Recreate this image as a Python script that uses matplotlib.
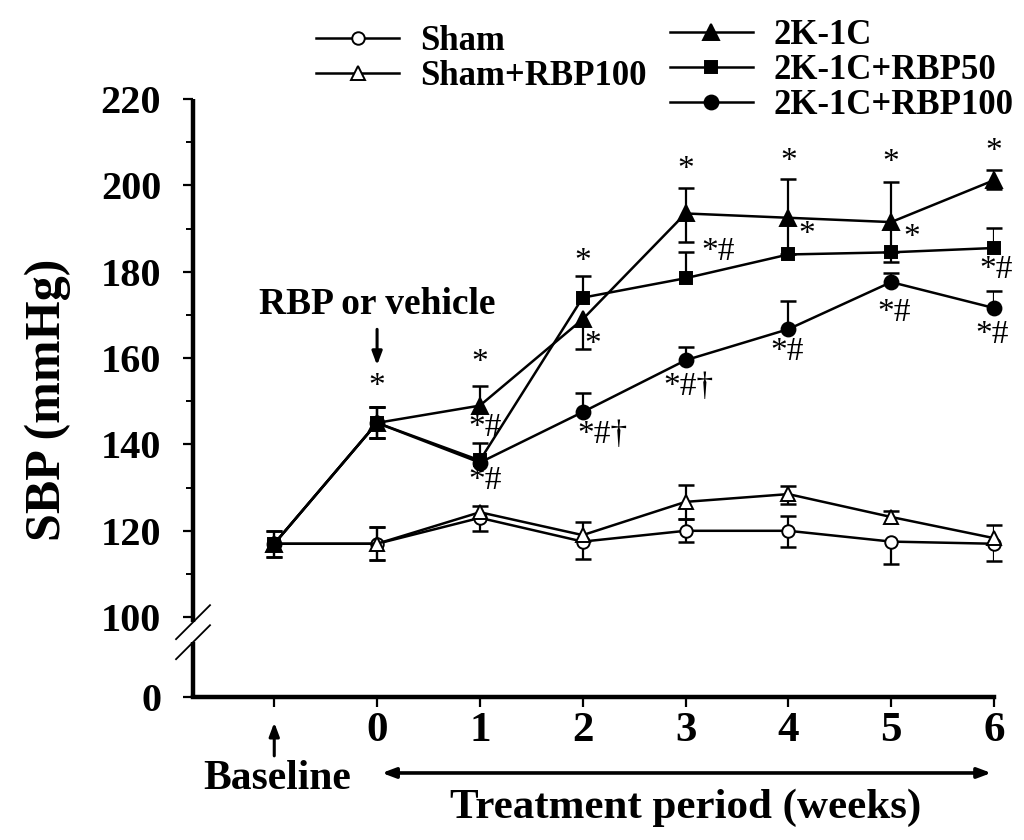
import matplotlib
matplotlib.use("Agg")
import matplotlib.pyplot as plt
import numpy as np

plt.rcParams['font.family'] = ['Liberation Serif', 'DejaVu Serif']
plt.rcParams['font.weight'] = 'bold'
plt.rcParams['axes.labelweight'] = 'bold'

# x positions: -1 is the baseline measurement, 0..6 are treatment weeks
weeks = [-1, 0, 1, 2, 3, 4, 5, 6]
week_labels = ['', '0', '1', '2', '3', '4', '5', '6']

# SBP means (mmHg) and one-sided error bar lengths
sham = [117, 117, 123, 117.5, 120, 120, 117.5, 117]
sham_lo = [3, 3.8, 3, 4, 2.7, 3.8, 5.3, 4]
sham_hi = [3, 3.8, 0, 0, 2.7, 3.4, 0, 0]

sham_rbp = [117, 117, 124.3, 119, 126.7, 128.5, 123.2, 118.3]
sham_rbp_lo = [0, 3.8, 0, 0, 4, 2.3, 0, 0]
sham_rbp_hi = [0, 3.8, 1.5, 3, 4, 1.8, 1.3, 3]

k2c = [117, 145, 149, 169, 193.5, 192.5, 191.5, 201.2]
k2c_lo = [3, 3.6, 0, 7, 6.5, 8.5, 7, 2]
k2c_hi = [3, 3.6, 4.6, 0, 6, 9, 9.3, 2.4]

rbp50 = [117, 145, 136.3, 174, 178.5, 184, 184.5, 185.5]
rbp50_lo = [0, 3.6, 0, 0, 0, 0, 2.3, 0]
rbp50_hi = [0, 3.6, 4, 5, 6, 0, 0, 4.7]

rbp100 = [117, 145, 135.8, 147.5, 159.5, 166.7, 177.6, 171.6]
rbp100_lo = [0, 3.6, 0, 0, 0, 0, 0, 0]
rbp100_hi = [0, 3.6, 0, 4.5, 3, 6.5, 2, 4]

# significance marks
star_x = [0, 1, 1.05, 1.05, 2, 2.1, 2.19, 3, 3.32, 3.03, 4, 4.18, 3.99, 5, 5.2, 5.03, 6, 6.02, 5.98]
star_y = [153.4, 159.0, 143.8, 131.7, 182.2, 163.0, 142.2, 203.6, 184.7, 153.4, 205.4, 188.5, 161.5,
          205.2, 187.8, 170.5, 207.8, 180.4, 165.4]
star_txt = ['*', '*', '*#', '*#', '*', '*', '*#\u2020', '*', '*#', '*#\u2020', '*', '*', '*#',
            '*', '*', '*#', '*', '*#', '*#']

Y_BOTTOM = 81.5   # where the "0" tick sits below the axis break

fig = plt.figure(figsize=(10.24, 8.4), dpi=100)
ax = fig.add_axes([0.1885, 0.1702, 0.7822, 0.7119])


def err_bars(x, y, lo, hi):
    x = np.array(x, float)
    y = np.array(y, float)
    for d, sign in ((np.array(hi, float), 1), (np.array(lo, float), -1)):
        m = d > 0
        ends = y[m] + sign * d[m]
        ax.vlines(x[m], y[m], ends, color='k', lw=1.6, zorder=2)
        ax.plot(x[m], ends, ls='none', marker='_', ms=12, mew=1.8, color='k',
                zorder=2, clip_on=False)


series = [
    ('Sham', sham, sham_lo, sham_hi, 'o', 'white', 9),
    ('Sham+RBP100', sham_rbp, sham_rbp_lo, sham_rbp_hi, '^', 'white', 10),
    ('2K-1C', k2c, k2c_lo, k2c_hi, '^', 'black', 11),
    ('2K-1C+RBP50', rbp50, rbp50_lo, rbp50_hi, 's', 'black', 9),
    ('2K-1C+RBP100', rbp100, rbp100_lo, rbp100_hi, 'o', 'black', 10),
]

lines = []
for i, (lab, y, lo, hi, mk, fc, ms) in enumerate(series):
    err_bars(weeks, y, lo, hi)
    ln, = ax.plot(weeks, y, color='k', lw=1.8, marker=mk, ms=ms, mfc=fc, mec='k',
                  mew=1.4, label=lab, zorder=3 + i, clip_on=False)
    lines.append(ln)

for x, y, t in zip(star_x, star_y, star_txt):
    ax.text(x, y, t, ha='center', va='center', fontsize=24, fontweight='normal', zorder=10)

# axes
ax.set_xlim(-1.79, 6)
ax.set_ylim(Y_BOTTOM, 220)
ax.set_xticks(weeks)
ax.set_xticklabels(week_labels, fontsize=31)
ax.set_yticks([Y_BOTTOM, 100, 120, 140, 160, 180, 200, 220])
ax.set_yticklabels(['0', '100', '120', '140', '160', '180', '200', '220'], fontsize=29)
ax.set_yticks([110, 130, 150, 170, 190, 210], minor=True)
ax.tick_params(axis='both', which='major', direction='out', length=7, width=1.6)
ax.tick_params(axis='y', which='major', pad=16)
ax.tick_params(axis='x', which='major', pad=4)
ax.tick_params(axis='y', which='minor', direction='out', length=5, width=1.4)
for s in ('top', 'right', 'left'):
    ax.spines[s].set_visible(False)
ax.spines['bottom'].set_linewidth(3.2)

# broken left axis
ytr = ax.get_yaxis_transform()
ax.plot([0, 0], [Y_BOTTOM, 94.2], color='k', lw=3.2, transform=ytr, clip_on=False,
        solid_capstyle='butt')
ax.plot([0, 0], [98.84, 220], color='k', lw=3.2, transform=ytr, clip_on=False,
        solid_capstyle='butt')
for yb in (98.84, 94.2):
    yf = (yb - Y_BOTTOM) / (220 - Y_BOTTOM)
    ax.plot([-0.0212, 0.0212], [yf - 0.0284, yf + 0.0284], color='k', lw=1.3,
            transform=ax.transAxes, clip_on=False)

ax.set_ylabel('SBP (mmHg)', fontsize=36, fontweight='bold')
ax.yaxis.set_label_coords(-0.152, 0.497)

# annotations
ax.annotate('', xy=(0, 157.7), xytext=(0, 167.3),
            arrowprops=dict(arrowstyle='-|>,head_length=0.8,head_width=0.3', color='k', lw=2.2))
ax.text(0, 172.5, 'RBP or vehicle', ha='center', va='center', fontsize=27)

xtr = ax.get_xaxis_transform()
ax.annotate('', xy=(-1, -0.038), xytext=(-1, -0.103), xycoords=xtr, textcoords=xtr,
            arrowprops=dict(arrowstyle='-|>,head_length=0.8,head_width=0.3', color='k', lw=2.2),
            annotation_clip=False)
ax.text(-0.97, -0.137, 'Baseline', transform=xtr, ha='center', va='center', fontsize=30)
ax.annotate('', xy=(6, -0.127), xytext=(0.02, -0.127), xycoords=xtr, textcoords=xtr,
            arrowprops=dict(arrowstyle='<|-|>,head_length=0.8,head_width=0.3', color='k', lw=2.6),
            annotation_clip=False)
ax.text(3.0, -0.185, 'Treatment period (weeks)', transform=xtr, ha='center', va='center',
        fontsize=31)

# legends
leg_kw = dict(frameon=False, fontsize=25, handlelength=2.4, handletextpad=0.6,
              labelspacing=0.05, borderpad=0, borderaxespad=0, loc='upper left')
leg1 = fig.legend(lines[:2], [s[0] for s in series[:2]], bbox_to_anchor=(0.3086, 0.970), **leg_kw)
leg2 = fig.legend(lines[2:], [s[0] for s in series[2:]], bbox_to_anchor=(0.654, 0.977), **leg_kw)

fig.savefig('out.png', dpi=100)
